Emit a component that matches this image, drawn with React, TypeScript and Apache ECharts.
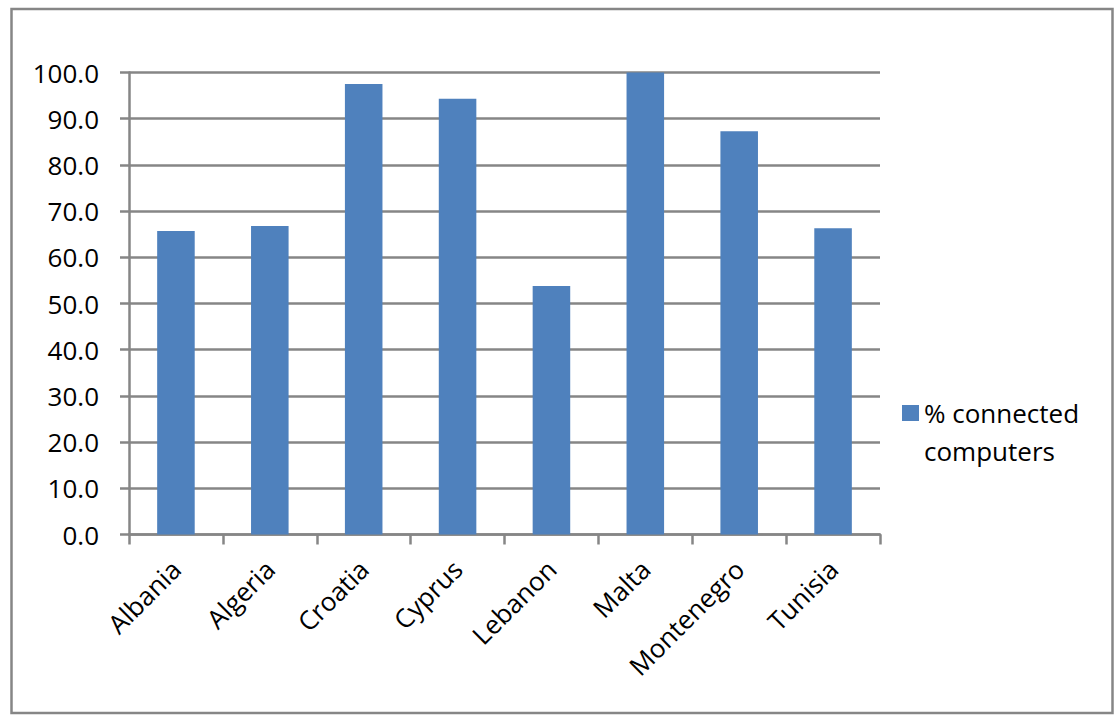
import React, { useEffect, useRef } from "react";
import * as echarts from "echarts";

const categories = ["Albania", "Algeria", "Croatia", "Cyprus", "Lebanon", "Malta", "Montenegro", "Tunisia"];
const seriesName = "% connected computers";
const values = [65.7, 66.8, 97.5, 94.3, 53.8, 100.0, 87.3, 66.3];
const yMin = 0;
const yMax = 100;
const yInterval = 10;

const FONT = "'Open Sans', sans-serif";
const GRAY = "#868686";

export default function App() {
  const ref = useRef<HTMLDivElement>(null);
  useEffect(() => {
    if (!ref.current) return;
    const chart = echarts.init(ref.current, undefined, { renderer: "svg" });
    chart.setOption({
      animation: false,
      backgroundColor: "#fff",
      textStyle: { fontFamily: FONT },
      grid: { left: 129, right: 239, top: 72.5, bottom: 190.5, containLabel: false },
      legend: {
        show: true,
        left: 897,
        top: 351,
        orient: "vertical",
        itemWidth: 17,
        itemHeight: 16,
        icon: "rect",
        data: [seriesName],
        formatter: () => "{e| }\n{a|% connected}\n{a|computers}",
        textStyle: {
          fontFamily: FONT,
          fontSize: 26,
          color: "#000",
          lineHeight: 38,
          rich: {
            e: { fontSize: 26, lineHeight: 38 },
            a: { fontFamily: FONT, fontSize: 26, lineHeight: 38, color: "#000" },
          },
        },
      },
      xAxis: {
        type: "category",
        data: categories,
        axisLine: { show: true, lineStyle: { color: GRAY, width: 2.5 } },
        axisTick: { show: true, length: 10, lineStyle: { color: GRAY, width: 2.5 } },
        axisLabel: {
          rotate: 45,
          interval: 0,
          margin: 30,
          fontFamily: FONT,
          fontSize: 26,
          color: "#000",
        },
      },
      yAxis: {
        type: "value",
        min: yMin,
        max: yMax,
        interval: yInterval,
        axisLine: { show: true, lineStyle: { color: GRAY, width: 2.5 } },
        axisTick: { show: true, length: 9, lineStyle: { color: GRAY, width: 2.5 } },
        splitLine: { show: true, lineStyle: { color: GRAY, width: 2.5 } },
        axisLabel: {
          margin: 30,
          fontFamily: FONT,
          fontSize: 26,
          color: "#000",
          formatter: (v: number) => v.toFixed(1),
        },
      },
      series: [
        {
          name: seriesName,
          type: "bar",
          data: values,
          barCategoryGap: "60%",
          itemStyle: { color: "#4F81BD" },
        },
      ],
      graphic: [
        {
          type: "rect",
          shape: { x: 11.5, y: 9, width: 1101, height: 704 },
          style: { fill: "none", stroke: GRAY, lineWidth: 2.5 },
          silent: true,
          z: 100,
        },
      ],
    });
    return () => chart.dispose();
  }, []);
  return (
    <div
      ref={ref}
      style={{ position: "fixed", left: 0, top: 0, width: 1119, height: 725 }}
    />
  );
}
